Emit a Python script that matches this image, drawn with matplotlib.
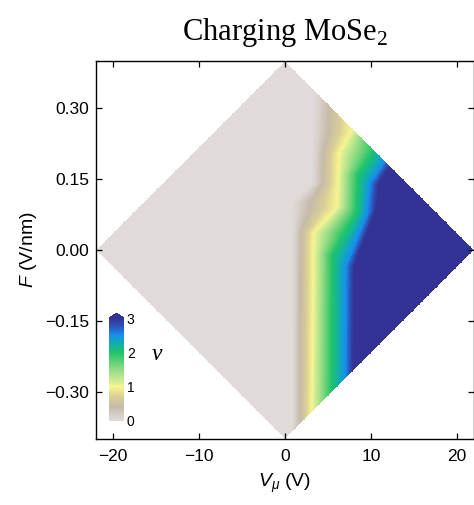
"""Charging map of MoSe2: filling factor nu vs gate voltage V_mu and field F."""
import numpy as np
import matplotlib
matplotlib.use("Agg")
import matplotlib.pyplot as plt
from matplotlib.colors import LinearSegmentedColormap
from matplotlib.ticker import FuncFormatter

plt.rcParams["font.family"] = ["Liberation Sans", "DejaVu Sans"]
plt.rcParams["mathtext.fontset"] = "custom"
plt.rcParams["mathtext.rm"] = "Liberation Sans"
plt.rcParams["mathtext.it"] = "Liberation Sans:italic"

# measured window: |V|/V_HALF + |F|/F_HALF <= 1
V_HALF = 22.0
F_HALF = 0.4

# V position (V) where nu reaches each level, read at knots of F (V/nm)
NU_LEVELS = [0.0, 1.0, 2.0, 2.5, 3.0]
F_NU0 = [-0.40, 0.10, 0.14, 0.40]
V_NU0 = [0.8, 0.8, 3.1, 3.4]
F_NU1 = [-0.40, 0.036, 0.091, 0.205, 0.25, 0.40]
V_NU1 = [3.1, 3.35, 6.1, 6.3, 7.7, 8.0]
F_NU2 = [-0.40, -0.01, 0.08, 0.16, 0.21, 0.40]
V_NU2 = [5.4, 5.5, 8.3, 8.5, 10.3, 10.5]
F_NU25 = [-0.40, -0.035, 0.078, 0.14, 0.19, 0.40]
V_NU25 = [7.0, 7.1, 9.6, 9.9, 11.7, 12.0]
F_NU3 = [-0.40, -0.035, 0.085, 0.14, 0.19, 0.40]
V_NU3 = [7.9, 8.0, 10.6, 10.9, 12.6, 13.0]

# colormap nodes (nu value, colour)
CMAP_NU = [0.0, 0.15, 0.4, 0.7, 0.92, 1.0, 1.12, 1.4, 1.75, 2.0, 2.25, 2.5, 2.75, 3.0]
CMAP_COLORS = ["#e0dad8", "#d8d1cc", "#c6bba8", "#d9cf98", "#f0ec8e", "#f7f592",
               "#d8ee94", "#a6e08a", "#5ccf74", "#1fc46a", "#12b0a8", "#1690ee",
               "#2c58bc", "#333396"]

X_TICKS = [-20, -10, 0, 10, 20]
Y_TICKS = [-0.30, -0.15, 0.00, 0.15, 0.30]
CB_TICKS = [0, 1, 2, 3]


def build_map():
    v = np.linspace(-V_HALF, V_HALF, 881)
    f = np.linspace(-F_HALF, F_HALF, 801)
    knots = [(F_NU0, V_NU0), (F_NU1, V_NU1), (F_NU2, V_NU2),
             (F_NU25, V_NU25), (F_NU3, V_NU3)]
    nu = np.empty((f.size, v.size))
    for i, fi in enumerate(f):
        edges = [np.interp(fi, fk, vk) for fk, vk in knots]
        nu[i] = np.interp(v, edges, NU_LEVELS)
    vv, ff = np.meshgrid(v, f)
    nu[np.abs(vv) / V_HALF + np.abs(ff) / F_HALF > 1.0] = np.nan
    return nu


def main():
    pos = [n / CMAP_NU[-1] for n in CMAP_NU]
    cmap = LinearSegmentedColormap.from_list("nu", list(zip(pos, CMAP_COLORS)))
    cmap.set_bad((1, 1, 1, 0))
    cmap.set_over(CMAP_COLORS[-1])

    fig = plt.figure(figsize=(4.74, 5.05), dpi=100)
    ax = fig.add_axes([96 / 474, 1 - 439 / 505, 378 / 474, 378 / 505])
    im = ax.imshow(build_map(), origin="lower", aspect="auto",
                   extent=[-V_HALF, V_HALF, -F_HALF, F_HALF],
                   cmap=cmap, vmin=0, vmax=3, interpolation="nearest")
    ax.set_xlim(-V_HALF, V_HALF)
    ax.set_ylim(-F_HALF, F_HALF)
    ax.set_xticks(X_TICKS)
    ax.set_yticks(Y_TICKS)
    ax.yaxis.set_major_formatter(FuncFormatter(lambda y, _: f"{y:.2f}".replace("-", "\u2212")))
    ax.tick_params(direction="in", top=True, right=True, length=4, width=0.9,
                   labelsize=12.5)
    ax.tick_params(axis="x", pad=7)
    ax.tick_params(axis="y", pad=5)
    for s in ax.spines.values():
        s.set_linewidth(1.0)
    ax.set_xlabel(r"$V_\mu$ (V)", fontsize=14, labelpad=6)
    ax.set_ylabel(r"$F$ (V/nm)", fontsize=14, labelpad=4)

    fig.text(285 / 474, 1 - 40 / 505, r"Charging MoSe$_{\mathregular{2}}$",
             ha="center", va="baseline", family="Liberation Serif", fontsize=22)

    cax = fig.add_axes([109 / 474, 1 - 421 / 505, 15 / 474, 108 / 505])
    cb = fig.colorbar(im, cax=cax, extend="max", ticks=CB_TICKS)
    cb.outline.set_visible(False)
    cax.tick_params(length=0, labelsize=10, pad=2)
    fig.text(157 / 474, 1 - 355 / 505, "\u03bd", ha="center", va="center",
             family="Liberation Serif", style="italic", fontsize=17)

    fig.savefig("out.png", dpi=100)
    plt.close(fig)


if __name__ == "__main__":
    main()
